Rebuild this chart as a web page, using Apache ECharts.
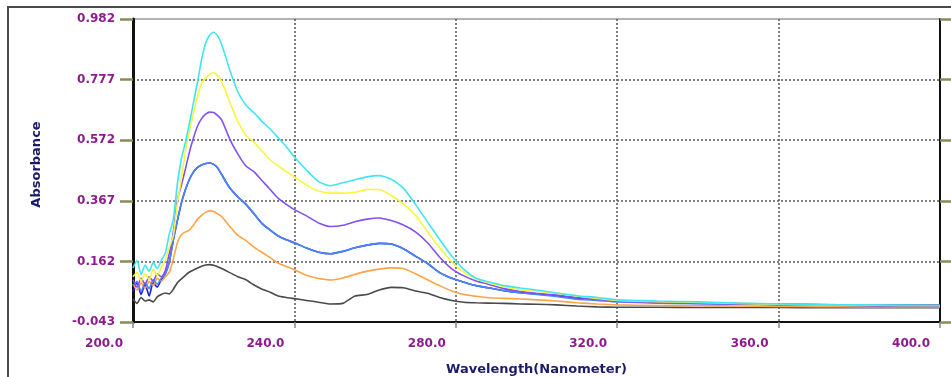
<!DOCTYPE html>
<html>
<head>
<meta charset="utf-8">
<script src="https://cdn.jsdelivr.net/npm/echarts@6/dist/echarts.min.js"></script>
<style>
  html, body { margin: 0; padding: 0; background: #fff; }
  #chart { width: 951px; height: 377px; }
</style>
</head>
<body>
<div id="chart"></div>
<script>
// wavelengths (nm) shared by every trace
const wavelengths = [200, 201, 202, 203, 204, 205, 206, 207, 208, 209, 210, 211, 212, 213, 214, 215, 216, 217, 218, 219, 220, 221, 222, 224, 226, 228, 230, 232, 234, 236, 238, 240, 243, 246, 249, 252, 255, 258, 261, 264, 267, 270, 273, 276, 279, 282, 285, 288, 292, 296, 300, 305, 310, 315, 320, 330, 340, 350, 360, 370, 380, 390, 400];

const cyanAbs = [0.140, 0.165, 0.118, 0.150, 0.128, 0.158, 0.138, 0.165, 0.190, 0.255, 0.305, 0.425, 0.510, 0.565, 0.630, 0.700, 0.770, 0.845, 0.900, 0.928, 0.937, 0.925, 0.895, 0.809, 0.735, 0.690, 0.665, 0.635, 0.610, 0.580, 0.550, 0.515, 0.471, 0.432, 0.418, 0.428, 0.438, 0.448, 0.452, 0.440, 0.410, 0.355, 0.295, 0.236, 0.180, 0.135, 0.105, 0.093, 0.080, 0.072, 0.065, 0.055, 0.046, 0.040, 0.032, 0.028, 0.025, 0.021, 0.018, 0.016, 0.015, 0.014, 0.013];
const yellowAbs = [0.110, 0.125, 0.095, 0.120, 0.100, 0.135, 0.115, 0.140, 0.165, 0.210, 0.250, 0.360, 0.440, 0.535, 0.605, 0.665, 0.720, 0.765, 0.782, 0.795, 0.800, 0.790, 0.770, 0.700, 0.635, 0.588, 0.565, 0.535, 0.505, 0.485, 0.466, 0.448, 0.420, 0.400, 0.393, 0.393, 0.396, 0.405, 0.405, 0.385, 0.357, 0.318, 0.262, 0.208, 0.160, 0.125, 0.103, 0.090, 0.076, 0.066, 0.061, 0.054, 0.045, 0.037, 0.030, 0.026, 0.023, 0.020, 0.017, 0.015, 0.014, 0.013, 0.013];
const purpleAbs = [0.100, 0.075, 0.105, 0.085, 0.110, 0.095, 0.120, 0.110, 0.130, 0.190, 0.262, 0.370, 0.420, 0.475, 0.533, 0.580, 0.620, 0.645, 0.660, 0.667, 0.666, 0.655, 0.640, 0.575, 0.525, 0.485, 0.465, 0.435, 0.405, 0.375, 0.355, 0.337, 0.316, 0.292, 0.280, 0.284, 0.296, 0.305, 0.309, 0.300, 0.285, 0.262, 0.225, 0.176, 0.137, 0.113, 0.096, 0.085, 0.070, 0.060, 0.054, 0.048, 0.040, 0.033, 0.027, 0.023, 0.020, 0.018, 0.016, 0.014, 0.013, 0.012, 0.012];
const blueAbs = [0.080, 0.095, 0.060, 0.090, 0.070, 0.100, 0.085, 0.105, 0.120, 0.160, 0.235, 0.300, 0.360, 0.405, 0.440, 0.465, 0.480, 0.488, 0.493, 0.495, 0.490, 0.478, 0.455, 0.410, 0.380, 0.355, 0.323, 0.290, 0.268, 0.248, 0.235, 0.225, 0.207, 0.193, 0.188, 0.196, 0.208, 0.217, 0.223, 0.221, 0.205, 0.180, 0.155, 0.124, 0.105, 0.092, 0.080, 0.073, 0.063, 0.056, 0.050, 0.043, 0.034, 0.030, 0.025, 0.021, 0.019, 0.017, 0.015, 0.014, 0.013, 0.012, 0.012];
const navyAbs = [0.060, 0.090, 0.050, 0.085, 0.045, 0.090, 0.075, 0.100, 0.120, 0.160, 0.235, 0.300, 0.360, 0.405, 0.440, 0.465, 0.480, 0.488, 0.493, 0.495, 0.490, 0.478, 0.455, 0.410, 0.380, 0.355, 0.323, 0.290, 0.268, 0.248, 0.235, 0.225, 0.207, 0.193, 0.188, 0.196, 0.208, 0.217, 0.223, 0.221, 0.205, 0.180, 0.155, 0.124, 0.105, 0.092, 0.080, 0.073, 0.063, 0.056, 0.052, 0.046, 0.038, 0.033, 0.028, 0.024, 0.021, 0.019, 0.017, 0.016, 0.015, 0.015, 0.014];
const orangeAbs = [0.085, 0.065, 0.090, 0.070, 0.095, 0.080, 0.105, 0.095, 0.110, 0.125, 0.170, 0.225, 0.252, 0.262, 0.268, 0.285, 0.305, 0.318, 0.328, 0.333, 0.331, 0.323, 0.313, 0.280, 0.250, 0.232, 0.210, 0.192, 0.175, 0.156, 0.145, 0.134, 0.115, 0.104, 0.099, 0.106, 0.118, 0.129, 0.136, 0.140, 0.138, 0.120, 0.100, 0.080, 0.062, 0.050, 0.044, 0.039, 0.037, 0.035, 0.032, 0.028, 0.022, 0.018, 0.015, 0.013, 0.012, 0.011, 0.010, 0.009, 0.008, 0.008, 0.008];
const greyAbs = [0.035, 0.020, 0.040, 0.028, 0.032, 0.025, 0.042, 0.050, 0.055, 0.052, 0.068, 0.090, 0.103, 0.115, 0.126, 0.133, 0.140, 0.146, 0.150, 0.151, 0.149, 0.144, 0.138, 0.124, 0.110, 0.100, 0.082, 0.068, 0.058, 0.045, 0.040, 0.036, 0.030, 0.024, 0.018, 0.020, 0.045, 0.050, 0.065, 0.074, 0.073, 0.062, 0.054, 0.040, 0.030, 0.024, 0.022, 0.021, 0.020, 0.018, 0.017, 0.015, 0.011, 0.008, 0.007, 0.007, 0.006, 0.006, 0.006, 0.005, 0.005, 0.005, 0.005];

const yTicks = [-0.043, 0.162, 0.367, 0.572, 0.777, 0.982];

// drawn in this order, last on top
const traces = [
  { name: "navy", color: "#1c1ce0", values: navyAbs },
  { name: "grey", color: "#4a4a4a", values: greyAbs },
  { name: "orange", color: "#ffa347", values: orangeAbs },
  { name: "blue", color: "#4a86f5", values: blueAbs },
  { name: "purple", color: "#8450ee", values: purpleAbs },
  { name: "yellow", color: "#f7f73a", values: yellowAbs },
  { name: "cyan", color: "#3fe6f2", values: cyanAbs }
];

const LABEL_COLOR = "#8e1b8e";
const TITLE_COLOR = "#1b1b6b";
const TICK_OLIVE = "#8a8a5a";
const FONT = "DejaVu Sans";

const chart = echarts.init(document.getElementById("chart"), null, { renderer: "canvas" });
chart.setOption({
  animation: false,
  backgroundColor: "#fff",
  graphic: [{
    type: "rect",
    shape: { x: 8, y: 7, width: 1000, height: 420 },
    style: { fill: "none", stroke: "#4a4a4a", lineWidth: 2 },
    silent: true
  }],
  grid: {
    left: 133, right: 11, top: 19, bottom: 55,
    outerBoundsMode: "none",
    show: true, borderColor: "#666", borderWidth: 1, backgroundColor: "transparent"
  },
  xAxis: {
    type: "value",
    min: 200,
    max: 400,
    interval: 40,
    name: "Wavelength(Nanometer)",
    nameLocation: "middle",
    nameGap: 41,
    nameTextStyle: { color: TITLE_COLOR, fontWeight: "bold", fontSize: 13, fontFamily: FONT },
    axisLine: { onZero: false, lineStyle: { color: "#111", width: 2 } },
    axisTick: { length: 6, lineStyle: { color: "#888", width: 1.5 } },
    axisLabel: {
      color: LABEL_COLOR, fontWeight: "bold", fontSize: 12, fontFamily: FONT,
      margin: 16, align: "right", padding: [0, 10, 0, 0],
      formatter: (v) => v.toFixed(1)
    },
    splitLine: { show: true, showMinLine: false, showMaxLine: false, lineStyle: { color: "#555", width: 1.5, type: [2, 2] } }
  },
  yAxis: [{
    type: "value",
    min: -0.043,
    max: 0.982,
    name: "Absorbance",
    nameLocation: "middle",
    nameGap: 90,
    nameTextStyle: { color: TITLE_COLOR, fontWeight: "bold", fontSize: 13, fontFamily: FONT, padding: [0, 0, 0, 12] },
    axisLine: { show: true, onZero: false, lineStyle: { color: "#111", width: 3 } },
    axisTick: { show: true, length: 13, customValues: yTicks, lineStyle: { color: TICK_OLIVE, width: 2.5 } },
    axisLabel: {
      color: LABEL_COLOR, fontWeight: "bold", fontSize: 12, fontFamily: FONT,
      margin: 18, customValues: yTicks, padding: [6, 0, 0, 0],
      formatter: (v) => v.toFixed(3)
    },
    splitLine: { show: true, showMinLine: false, showMaxLine: false, lineStyle: { color: "#555", width: 1.5, type: [2, 2] } }
  }, {
    type: "value",
    position: "right",
    min: -0.043,
    max: 0.982,
    axisLine: { show: true, onZero: false, lineStyle: { color: "#111", width: 2 } },
    axisTick: { show: true, length: 11, customValues: yTicks, lineStyle: { color: TICK_OLIVE, width: 2.5 } },
    axisLabel: { show: false },
    splitLine: { show: false }
  }],
  series: traces.map((t) => ({
    name: t.name,
    type: "line",
    yAxisIndex: 0,
    showSymbol: false,
    smooth: 0.2,
    color: t.color,
    lineStyle: { color: t.color, width: 1.6 },
    data: wavelengths.map((w, i) => [w, t.values[i]])
  }))
});
</script>
</body>
</html>
